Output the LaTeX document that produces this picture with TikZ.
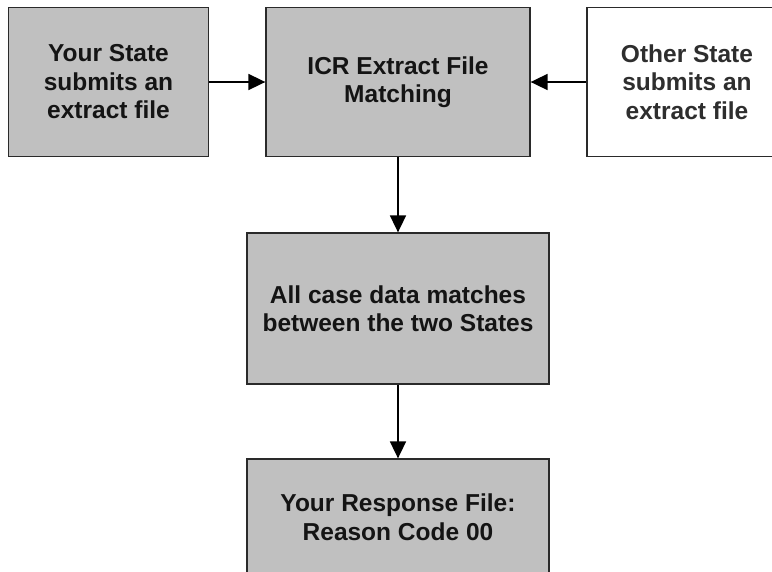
\documentclass[tikz,border=0pt]{standalone}
\usepackage{fontspec}
\setmainfont{Liberation Sans}
\usetikzlibrary{arrows.meta}
\definecolor{boxgray}{HTML}{C0C0C0}
\definecolor{edge}{HTML}{2A2A2A}
\begin{document}
\begin{tikzpicture}[x=1pt,y=-1pt,
  box/.style={draw=edge,line width=1.3pt,fill=boxgray,align=center,inner sep=0pt,
    font=\fontsize{24.5}{28.5}\selectfont\bfseries,text=black!92},
  plainbox/.style={box,fill=white,text=black!82},
  flow/.style={line width=1.8pt,-{Triangle[length=17pt,width=16pt]}}]
\useasboundingbox (0,0) rectangle (772,571);
\node[box,minimum width=200pt,minimum height=149pt] (your) at (108.5,82) {Your State\\submits an\\extract file};
\node[box,minimum width=264pt,minimum height=149pt] (icr) at (398,82) {ICR Extract File\\Matching};
\node[plainbox,minimum width=200pt,minimum height=149pt] (other) at (687,82) {Other State\\submits an\\extract file};
\node[box,minimum width=302pt,minimum height=151pt,text depth=-4pt] (all) at (398,308.5) {All case data matches\\between the two States};
\node[box,minimum width=302pt,minimum height=116pt] (resp) at (398,517) {Your Response File:\\Reason Code 00};
\draw[flow] (your.east) -- (icr.west);
\draw[flow] (other.west) -- (icr.east);
\draw[flow] (icr.south) -- (all.north);
\draw[flow] (all.south) -- (resp.north);
\end{tikzpicture}
\end{document}
